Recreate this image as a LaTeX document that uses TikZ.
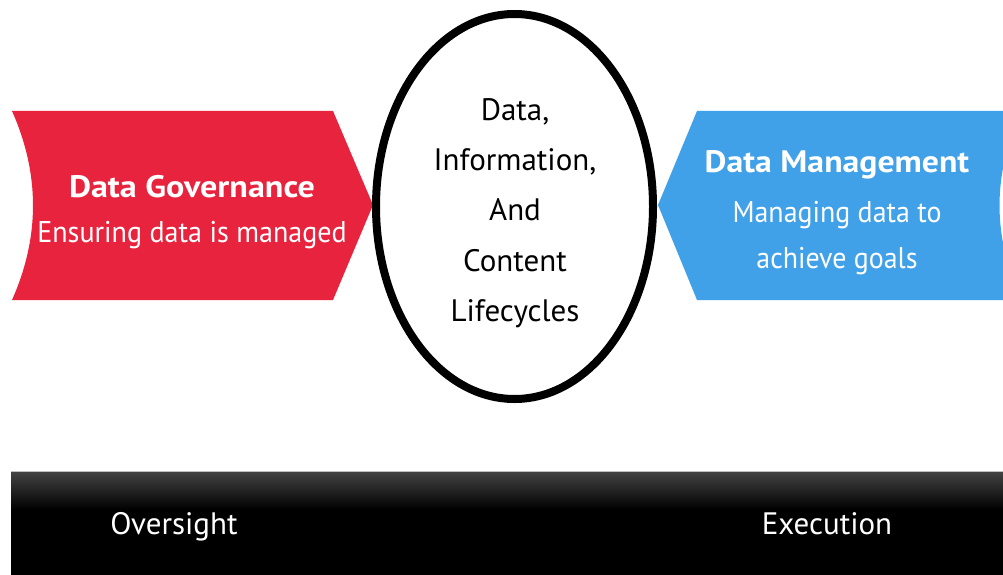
\documentclass[tikz,border=0pt]{standalone}
\usepackage{fontspec}
\setmainfont{PT Sans}
\usetikzlibrary{shapes.geometric}
\definecolor{govred}{RGB}{232,35,62}
\definecolor{mgmtblue}{RGB}{64,161,232}
\definecolor{bargray}{RGB}{66,66,66}
\tikzset{
  whitetext/.style={text=white, align=center, inner sep=0pt},
  darktext/.style={text=black, align=center, inner sep=0pt},
}
\begin{document}
\begin{tikzpicture}[x=1pt,y=-1pt]
\useasboundingbox (0,0) rectangle (1003,575);
\begin{scope}
\clip (0,0) rectangle (1003,575);
% red chevron
\fill[govred] (12,111) -- (333,111) -- (373,205) -- (333,300) -- (12,300)
  .. controls (40,237) and (40,174) .. (12,111) -- cycle;
% blue chevron
\fill[mgmtblue] (697,111) -- (1022,111) .. controls (992,174) and (992,237) .. (1022,300)
  -- (697,300) -- (658,205) -- cycle;
% bottom bar
\fill[black] (11,471) rectangle (1003,575);
\shade[top color=bargray, bottom color=black] (11,472) rectangle (1003,510);
\draw[gray!50, line width=1.2pt] (11,471.5) -- (1003,471.5);
\end{scope}
% circle
\draw[line width=8pt] (514.5,206.5) ellipse [x radius=138.5, y radius=192.5];
% texts
\node[whitetext, font=\bfseries\fontsize{31}{36}\selectfont, xscale=1.1] (gov) at (192,187) {Data Governance};
\node[whitetext, font=\fontsize{30}{36}\selectfont, xscale=0.935] (govsub) at (192,235) {Ensuring data is managed};
\node[whitetext, font=\bfseries\fontsize{31}{36}\selectfont, xscale=1.09] (mgmt) at (837,165) {Data Management};
\node[whitetext, font=\fontsize{30}{46}\selectfont, xscale=0.93] (mgmtsub) at (837,238) {Managing data to\\achieve goals};
\node[darktext, font=\fontsize{31}{50.3}\selectfont] (life) at (515,213) {Data,\\Information,\\And\\Content\\Lifecycles};
\node[whitetext, font=\fontsize{31}{36}\selectfont, anchor=base] (over) at (174,534) {Oversight};
\node[whitetext, font=\fontsize{31}{36}\selectfont, anchor=base] (exec) at (827,534) {Execution};
\end{tikzpicture}
\end{document}
